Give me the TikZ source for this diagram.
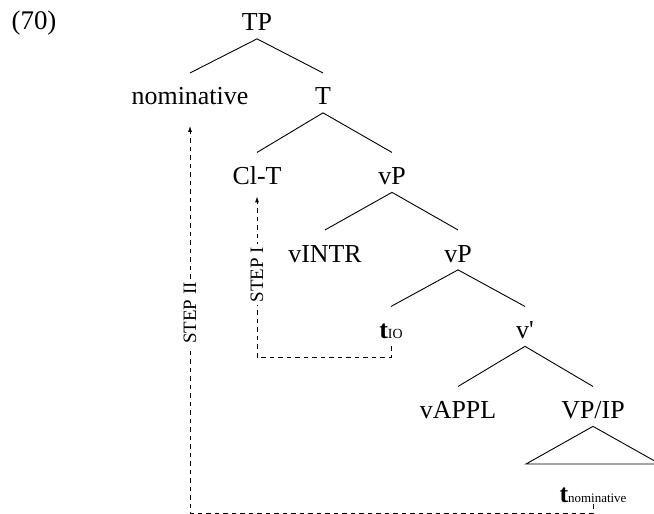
\documentclass[tikz,border=0pt]{standalone}
\usepackage{fontspec}
\setmainfont{Liberation Serif}
\usetikzlibrary{arrows.meta}
\newcommand{\drawBranch}[2]{
	\draw (#1.south) -- (#2.north);
}
\newcommand{\drawMove}[5]{
	\draw[move, shorten >=#5] (#1.south) |- (#2) -- node[midway,sloped,steplabel] {#4} (#3.south);
}

\begin{document}
\begin{tikzpicture}[x=1bp, y=-1bp, line width=0.9bp,
		>={Latex[length=6bp,width=4bp]},
		cat/.style={inner sep=0, text height=31.6bp, text depth=7.4bp, anchor=base, font=\fontsize{26}{30}\selectfont},
		trace/.style={inner sep=0, text depth=2bp, anchor=base, font=\fontsize{26}{30}\selectfont},
		move/.style={->, dash pattern=on 4.5bp off 4bp},
		steplabel/.style={fill=white, inner sep=3bp, font=\fontsize{19}{19}\selectfont}]

		\useasboundingbox (0,0) rectangle (654,514);

		\node[anchor=base, font=\fontsize{27}{30}\selectfont] (exNum) at (34,30) {(70)};

		\node[cat] (TP) at (257,31) {TP};
		\node[cat] (Nom) at (190,105) {nominative};
		\node[cat] (T) at (323,105) {T};
		\node[cat] (ClT) at (257,184.5) {Cl-T};
		\node[cat] (vP_A) at (392,184.5) {vP};
		\node[cat] (vINTR) at (325,262) {vINTR};
		\node[cat] (vP_B) at (458,262) {vP};
		\node[cat] (tIO) at (391,338.5) {\textbf{t}{\fontsize{14}{14}\selectfont IO}};
		\node[cat] (vBar) at (525,338.5) {v\textquotesingle};
		\node[cat] (vAPPL) at (458,418.5) {vAPPL};
		\node[cat] (VPIP) at (593,418.5) {VP/IP};
		\node[trace] (tNom) at (593,502) {\textbf{t}{\fontsize{13}{13}\selectfont nominative}};

		\coordinate (Tri_L) at (526,464);
		\coordinate (Tri_R) at (660,464);
		\coordinate (StepI_C) at (257,357);
		\coordinate (StepII_C) at (190,513);

		\drawBranch{TP}{Nom}
		\drawBranch{TP}{T}
		\drawBranch{T}{ClT}
		\drawBranch{T}{vP_A}
		\drawBranch{vP_A}{vINTR}
		\drawBranch{vP_A}{vP_B}
		\drawBranch{vP_B}{tIO}
		\drawBranch{vP_B}{vBar}
		\drawBranch{vBar}{vAPPL}
		\drawBranch{vBar}{VPIP}
		\draw (VPIP.south) -- (Tri_L) -- (Tri_R) -- cycle;

		\drawMove{tIO}{StepI_C}{ClT}{STEP I}{4bp}
		\drawMove{tNom}{StepII_C}{Nom}{STEP II}{13bp}

	\end{tikzpicture}
\end{document}
